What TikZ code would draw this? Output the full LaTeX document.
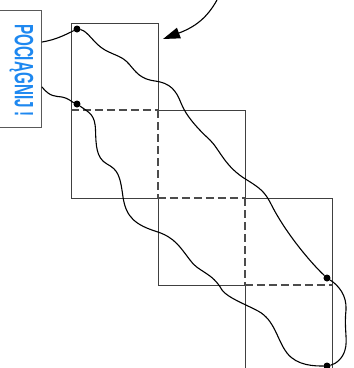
\documentclass[tikz,border=0pt]{standalone}
\usepackage{fontspec}
\setmainfont{Liberation Sans}
\usetikzlibrary{arrows.meta}
\definecolor{labelblue}{HTML}{1E88F0}
\tikzset{
  edgeline/.style={draw=black!75,line width=1pt},
  dashline/.style={draw=black!70,line width=1.25pt,dash pattern=on 8pt off 4pt},
  wave/.style={draw=black,line width=1.1pt,line cap=round},
  dot/.style={circle,fill=black,inner sep=0pt,minimum size=7pt},
  labelbox/.style={draw=black!65,fill=white,line width=1pt,minimum width=43pt,minimum height=117pt,inner sep=0pt}
}
\begin{document}
\begin{tikzpicture}[x=1pt,y=-1pt]
\useasboundingbox (0,0) rectangle (354,368);
% squares
\begin{scope}[shift={(0.4,0.4)}]
\draw[edgeline] (71,110) -- (71,23) -- (158,23) -- (158,110);
\draw[edgeline] (71,110) -- (71,198) -- (158,198);
\draw[edgeline] (158,110) -- (245,110) -- (245,198);
\draw[edgeline] (158,198) -- (158,285) -- (245,285);
\draw[edgeline] (245,198) -- (332,198) -- (332,285) -- (332,368);
\draw[edgeline] (245,285) -- (245,368);
\end{scope}
\draw[dashline] (71,110) -- (158,110);
\draw[dashline] (158,110) -- (158,198);
\draw[dashline] (158,198) -- (245,198);
\draw[dashline] (245,198) -- (245,285);
\draw[dashline] (245,285) -- (332,285);
% label
\node[labelbox] (label) at (20.5,68.5) {};
\node[rotate=-90,text=labelblue,inner sep=0pt] (labeltext) at (21.5,70.5)
  {\scalebox{0.574}[1]{\fontsize{26.5pt}{26.5pt}\selectfont\bfseries POCIĄGNIJ !}};
% dots
\node[dot] (a) at (77,29) {};
\node[dot] (b) at (77,104) {};
\node[dot] (c) at (327,278) {};
\node[dot] (d) at (327,366) {};
\coordinate (la) at (42,42);
\coordinate (lb) at (42,87);
\coordinate (arrowstart) at (217,0);
\coordinate (arrowend) at (163,39);
% connectors
\draw[wave] (la) .. controls (55,40) and (65,35) .. (a);
\draw[wave] (lb) .. controls (50,97) and (55,96) .. (62,97) .. controls (68,98) and (72,102) .. (b);
\draw[wave] (a) .. controls (88,31) and (94,44) .. (105,50)
  .. controls (116,56) and (122,56) .. (129,64)
  .. controls (136,72) and (140,79) .. (155,81)
  .. controls (170,83) and (176,90) .. (181,103)
  .. controls (186,116) and (198,129) .. (210,140)
  .. controls (220,150) and (225,167) .. (247,180)
  .. controls (260,188) and (265,192) .. (271,204)
  .. controls (285,232) and (310,262) .. (c);
\draw[wave] (b) .. controls (90,113) and (95,115) .. (95.5,130)
  .. controls (96,145) and (96,158) .. (107,164)
  .. controls (118,170) and (120,175) .. (123,197)
  .. controls (126,217) and (135,225) .. (158,232)
  .. controls (175,238) and (180,247) .. (190,260)
  .. controls (198,272) and (212,272) .. (222,290)
  .. controls (228,298) and (245,304) .. (258,311)
  .. controls (275,320) and (277,340) .. (287,353)
  .. controls (297,366) and (315,366) .. (d);
\draw[wave] (c) .. controls (338,285) and (347,295) .. (346,310)
  .. controls (344,330) and (348,340) .. (345,350)
  .. controls (343,358) and (336,364) .. (d);
\draw[wave,-{Triangle[length=17pt,width=11pt]}] (arrowstart) .. controls (207,18) and (195,27) .. (arrowend);
\end{tikzpicture}
\end{document}
